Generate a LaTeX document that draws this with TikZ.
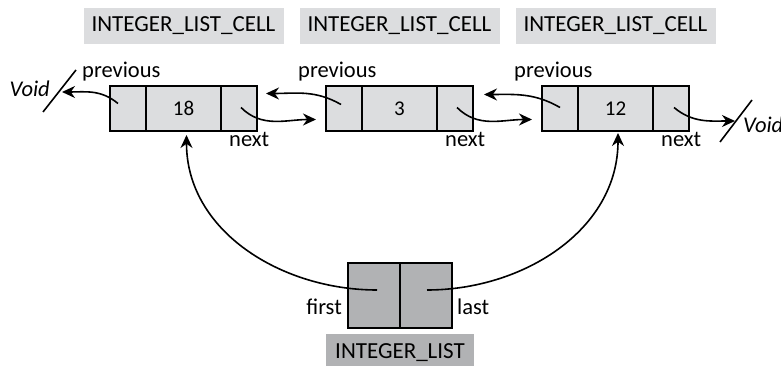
\documentclass[tikz,border=0pt]{standalone}
\usepackage{fontspec}
\setmainfont{Carlito}
\usetikzlibrary{calc}
\usetikzlibrary{arrows.meta, positioning}
\definecolor{cellgray}{HTML}{DCDDDF}
\definecolor{listgray}{HTML}{B1B2B4}
\tikzset{>={Stealth[length=13pt,width=12pt]}}
\tikzset{
  field/.style={draw, line width=1.8pt, fill=cellgray, minimum height=45pt, inner sep=0pt, outer sep=0pt},
  ptrfield/.style={field, minimum width=36pt},
  valfield/.style={field, minimum width=75pt, font=\fontsize{21}{25}\selectfont},
  listfield/.style={field, fill=listgray, minimum width=52pt, minimum height=65pt},
  classname/.style={minimum width=200pt, minimum height=36pt, inner sep=0pt, font=\fontsize{23}{27}\selectfont},
  txt/.style={inner sep=0pt, font=\fontsize{22.5}{27}\selectfont},
  link/.style={->, line width=1.6pt},
}

\begin{document}
\begin{tikzpicture}[x=1pt,y=1pt]
  \useasboundingbox (0,0) rectangle (781,366);

  \node[ptrfield] (c1p) at (128,257.5) {};
  \node[valfield, right=0pt of c1p] (c1d) {18};
  \node[ptrfield, right=0pt of c1d] (c1n) {};
  \node[ptrfield] (c2p) at (344,257.5) {};
  \node[valfield, right=0pt of c2p] (c2d) {3};
  \node[ptrfield, right=0pt of c2d] (c2n) {};
  \node[ptrfield] (c3p) at (560,257.5) {};
  \node[valfield, right=0pt of c3p] (c3d) {12};
  \node[ptrfield, right=0pt of c3d] (c3n) {};

  \node[classname, fill=cellgray, above=42pt of c1d] (t1) {INTEGER\_LIST\_CELL};
  \node[classname, fill=cellgray, above=42pt of c2d] (t2) {INTEGER\_LIST\_CELL};
  \node[classname, fill=cellgray, above=42pt of c3d] (t3) {INTEGER\_LIST\_CELL};

  \node[txt, anchor=base west] (prev1) at ($(c1p.north west)+(-28,8)$) {previous};
  \node[txt, anchor=base west] (prev2) at ($(c2p.north west)+(-28,8)$) {previous};
  \node[txt, anchor=base west] (prev3) at ($(c3p.north west)+(-28,8)$) {previous};
  \node[txt, anchor=base west] (next1) at ($(c1n.south east)+(-28,-16)$) {next};
  \node[txt, anchor=base west] (next2) at ($(c2n.south east)+(-28,-16)$) {next};
  \node[txt, anchor=base west] (next3) at ($(c3n.south east)+(-28,-16)$) {next};

  \node[txt, anchor=base east] (voidl) at (50,269) {\itshape Void};
  \node[txt, anchor=base west] (voidr) at (743,233) {\itshape Void};
  \draw[line width=1.6pt] (43,254) -- (76,296);
  \draw[line width=1.6pt] (720,224) -- (752,266);
  \coordinate (nill) at (62,274);
  \coordinate (nilr) at (735,245);

  \draw[link] ($(c1p.center)+(-10,5)$) to[out=140,in=0] (nill);
  \draw[link] ($(c1n.center)+(2,1)$) to[out=-45,in=180] ($(c2p.west)+(-10,-11)$);
  \draw[link] ($(c2p.center)+(-3,4)$) to[out=150,in=0] ($(c1n.east)+(9,15)$);
  \draw[link] ($(c2n.center)+(2,1)$) to[out=-45,in=180] ($(c3p.west)+(-10,-11)$);
  \draw[link] ($(c3p.center)+(0,1)$) to[out=150,in=0] ($(c2n.east)+(11,14)$);
  \draw[link] ($(c3n.center)+(3,1)$) to[out=-40,in=180] (nilr);

  \node[listfield] (first) at (374,70.5) {};
  \node[listfield, right=0pt of first] (last) {};
  \node[classname, fill=listgray, minimum width=148pt, below=6pt of first.south east] (tl) {INTEGER\_LIST};
  \node[txt, anchor=base east] (firstlbl) at ($(first.south west)+(-6,13)$) {first};
  \node[txt, anchor=base west] (lastlbl) at ($(last.south east)+(5,13)$) {last};

  \draw[link] ($(first.center)+(3,5.5)$) to[out=180,in=-90] ($(c1d.south)+(3,-4)$);
  \draw[link] ($(last.center)+(1,5.5)$) to[out=0,in=-90] ($(c3d.south)+(2.5,-2)$);
\end{tikzpicture}
\end{document}
